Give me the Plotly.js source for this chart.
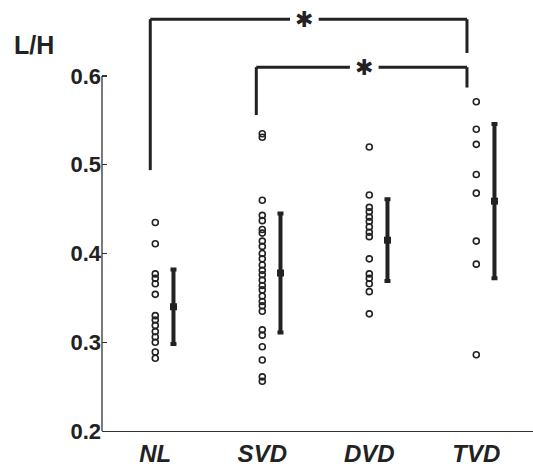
<!DOCTYPE html>
<html>
<head>
<meta charset="utf-8">
<script src="https://cdn.plot.ly/plotly-3.0.1.min.js"></script>
<style>html,body{margin:0;padding:0;background:#fff;}#chart{width:533px;height:469px;}</style>
</head>
<body>
<div id="chart"></div>
<script>
const categories = ['NL', 'SVD', 'DVD', 'TVD'];
const nlValues = [0.435, 0.411, 0.377, 0.372, 0.366, 0.354, 0.330, 0.325, 0.319, 0.312, 0.306, 0.300, 0.289, 0.282];
const svdValues = [0.535, 0.531, 0.460, 0.443, 0.437, 0.427, 0.423, 0.414, 0.408, 0.400, 0.394, 0.387, 0.381, 0.376, 0.370, 0.364, 0.359, 0.352, 0.346, 0.341, 0.335, 0.314, 0.308, 0.295, 0.280, 0.261, 0.256];
const dvdValues = [0.520, 0.466, 0.452, 0.447, 0.441, 0.436, 0.430, 0.424, 0.419, 0.394, 0.377, 0.372, 0.366, 0.357, 0.332];
const tvdValues = [0.571, 0.540, 0.523, 0.489, 0.468, 0.414, 0.388, 0.286];
const groupValues = [nlValues, svdValues, dvdValues, tvdValues];
const means = [0.340, 0.378, 0.415, 0.459];
const sds = [0.042, 0.067, 0.046, 0.087];
const yTicks = [0.2, 0.3, 0.4, 0.5, 0.6];
const yTickText = ['0.2', '0.3', '0.4', '0.5', '0.6'];
// significance brackets between groups
const brackets = [
  {from: 0, to: 3, top: 0.664, leftBottom: 0.494, rightBottom: 0.626, starX: 2.393, label: '✱'},
  {from: 1, to: 3, top: 0.610, leftBottom: 0.556, rightBottom: 0.587, starX: 2.953, label: '✱'}
];

const ink = '#222';
const traces = [];
groupValues.forEach((vals, i) => {
  traces.push({
    type: 'scatter', mode: 'markers',
    x: vals.map(() => i + 1), y: vals,
    marker: {symbol: 'circle-open', size: 6, color: ink, line: {width: 1.6, color: ink}},
    hoverinfo: 'y', showlegend: false
  });
});
traces.push({
  type: 'scatter', mode: 'markers',
  x: means.map((m, i) => i + 1 + 0.17), y: means,
  marker: {symbol: 'square', size: 7, color: ink},
  error_y: {type: 'data', array: sds, visible: true, color: ink, thickness: 4, width: 3},
  showlegend: false, hoverinfo: 'y'
});

const shapes = [
  {type: 'line', xref: 'paper', yref: 'y', x0: 0, x1: 0, y0: 0.2, y1: 0.6, line: {color: '#333', width: 1.3}}
];
const annotations = [
  {xref: 'paper', yref: 'paper', x: -0.158, y: 0.905, text: '<b>L/H</b>', showarrow: false,
   font: {family: 'Liberation Sans, Arial, sans-serif', size: 25, color: ink}, xanchor: 'center', yanchor: 'middle'}
];
const xOff = [-0.047, -0.056, 0, -0.087];
const gapHalf = 0.134;
brackets.forEach((b) => {
  const xl = b.from + 1 + xOff[b.from];
  const xr = b.to + 1 + xOff[b.to];
  const ln = {color: ink, width: 3};
  shapes.push({type: 'line', xref: 'x', yref: 'y', x0: xl, x1: xl, y0: b.leftBottom, y1: b.top, line: ln});
  shapes.push({type: 'line', xref: 'x', yref: 'y', x0: xl, x1: b.starX - gapHalf, y0: b.top, y1: b.top, line: ln});
  shapes.push({type: 'line', xref: 'x', yref: 'y', x0: b.starX + gapHalf, x1: xr, y0: b.top, y1: b.top, line: ln});
  shapes.push({type: 'line', xref: 'x', yref: 'y', x0: xr, x1: xr, y0: b.top, y1: b.rightBottom, line: ln});
  annotations.push({xref: 'x', yref: 'y', x: b.starX, y: b.top, text: b.label,
    showarrow: false, yanchor: 'middle', xanchor: 'center',
    font: {family: 'DejaVu Sans, sans-serif', size: 22, color: ink}});
});

const layout = {
  width: 533, height: 469,
  margin: {l: 102, r: 0, t: 5, b: 38},
  paper_bgcolor: '#fff', plot_bgcolor: '#fff',
  xaxis: {range: [0.502, 4.53], tickvals: [1, 2, 3, 4], ticktext: categories.map(c => '<b><i>' + c + '</i></b>'),
    showline: true, linecolor: '#333', linewidth: 1.3, showgrid: false, zeroline: false, ticks: '',
    ticklabelstandoff: 1,
    tickfont: {family: 'Liberation Sans, Arial, sans-serif', size: 24, color: ink}},
  yaxis: {range: [0.2, 0.68], tickvals: yTicks, ticktext: yTickText.map(t => '<b>' + t + '</b>'),
    showline: false, showgrid: false, zeroline: false, ticks: 'inside', ticklen: 5, tickcolor: '#333', tickwidth: 1.3,
    tickfont: {family: 'Liberation Sans, Arial, sans-serif', size: 22, color: ink}},
  shapes: shapes, annotations: annotations
};
Plotly.newPlot('chart', traces, layout, {displayModeBar: false, staticPlot: true});
</script>
</body>
</html>
